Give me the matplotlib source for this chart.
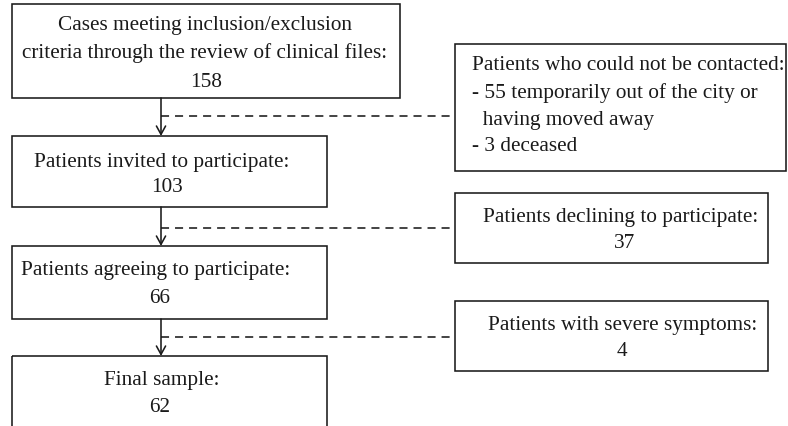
import matplotlib
matplotlib.use("Agg")
import matplotlib.pyplot as plt
from matplotlib.patches import Rectangle

plt.rcParams['font.family'] = ['Liberation Serif', 'DejaVu Serif']
plt.rcParams['lines.scale_dashes'] = False

# ---- data ----
main_labels = [
    ["Cases meeting inclusion/exclusion", "criteria through the review of clinical files:"],
    ["Patients invited to participate:"],
    ["Patients agreeing to participate:"],
    ["Final sample:"],
]
main_counts = [158, 103, 66, 62]

side_labels = [
    "Patients who could not be contacted:",
    "Patients declining to participate:",
    "Patients with severe symptoms:",
]
side_counts = [None, 37, 4]
side_detail = ["- 55 temporarily out of the city or", "  having moved away", "- 3 deceased"]

# ---- layout (pixel coordinates, y downwards) ----
W, H = 788, 427
main_boxes = [(12, 5, 400, 99), (12, 137, 327, 208), (12, 247, 327, 320), (12, 357, 327, 440)]
main_label_x = [205, 162, 156, 162]
main_count_x = [206, 167, 160, 160]
main_baselines = [[30, 58], [167], [275], [385]]
main_count_base = [87, 192, 303, 412]

side_boxes = [(455, 45, 786, 172), (455, 194, 768, 264), (455, 302, 768, 372)]
side_label_x = [472, 621, 623]
side_count_x = [None, 625, 622]
side_label_base = [70, 222, 330]
side_count_base = [None, 248, 356]
detail_base = [98, 125, 151]
dash_y = [117, 229, 338]
arrow_x = 161
fs = 15.3
ink = '#1a1a1a'

fig = plt.figure(figsize=(W / 100, H / 100), dpi=100)
ax = fig.add_axes([0, 0, 1, 1])
ax.set_xlim(0, W)
ax.set_ylim(H, 0)
ax.axis('off')

lw = 1.15
for (x0, y0, x1, y1) in main_boxes + side_boxes:
    ax.add_patch(Rectangle((x0, y0), x1 - x0, y1 - y0, fill=False, ec=ink, lw=lw))

def put(x, y, s, ha='center'):
    ax.text(x, y, s, ha=ha, va='baseline', fontsize=fs, color=ink)

for i, lines in enumerate(main_labels):
    for s, yb in zip(lines, main_baselines[i]):
        put(main_label_x[i], yb, s)
    put(main_count_x[i], main_count_base[i], str(main_counts[i]))

put(side_label_x[0], side_label_base[0], side_labels[0], ha='left')
for s, yb in zip(side_detail, detail_base):
    put(side_label_x[0], yb, s, ha='left')
for i in (1, 2):
    put(side_label_x[i], side_label_base[i], side_labels[i])
    put(side_count_x[i], side_count_base[i], str(side_counts[i]))

# arrows and dashed connectors
for i in range(3):
    y_start = main_boxes[i][3]
    y_end = main_boxes[i + 1][1]
    ax.annotate("", xy=(arrow_x, y_end), xytext=(arrow_x, y_start),
                arrowprops=dict(arrowstyle='->,head_length=0.6,head_width=0.33',
                                color=ink, lw=lw, shrinkA=0, shrinkB=0))
    ax.plot([arrow_x, side_boxes[i][0]], [dash_y[i], dash_y[i]], color=ink, lw=lw,
            dashes=(5.8, 4.3))

fig.savefig("out.png", dpi=100)
